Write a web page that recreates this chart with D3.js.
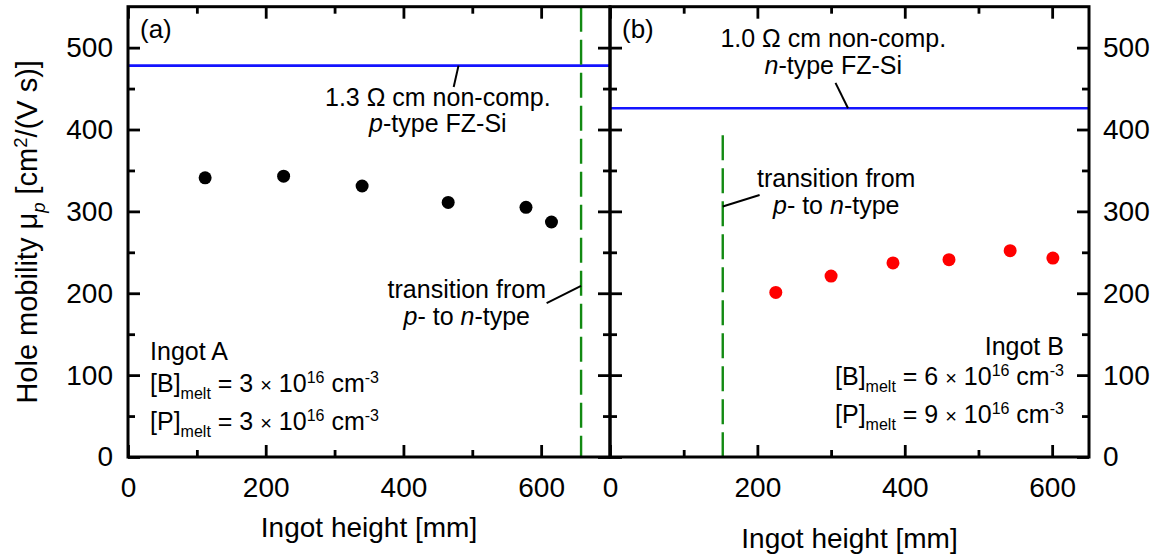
<!DOCTYPE html>
<html>
<head>
<meta charset="utf-8">
<script src="https://cdn.jsdelivr.net/npm/d3@7"></script>
<style>
  body { margin: 0; background: #fff; }
  svg text { font-family: "Liberation Sans", Arial, sans-serif; fill: #000; }
</style>
</head>
<body>
<svg id="chart" width="1159" height="556"></svg>
<script>
// ---- data ----
// panel (a): ingot A, black dots
const heightA = [112, 226, 340, 465, 578, 615];
const mobilityA = [341, 343, 331, 311, 305, 287];
// panel (b): ingot B, red dots
const heightB = [225, 300, 384, 460, 543, 601];
const mobilityB = [201, 221, 237, 241, 252, 243];

const fzA = 478;          // 1.3 Ohm cm p-type FZ-Si reference
const fzB = 426;          // 1.0 Ohm cm n-type FZ-Si reference
const transitionA = 658;  // p- to n-type transition [mm]
const transitionB = 153;
const transitionBTop = 393;

const yTicks = [0, 100, 200, 300, 400, 500];
const yMinor = [50, 150, 250, 350, 450];
const xTicksA = [0, 200, 400, 600];
const xMinorA = [100, 300, 500];
const xTicksB = [0, 200, 400, 600];
const xMinorB = [100, 300, 500];

// ---- layout ----
const svg = d3.select("#chart");
const plotTop = 6.7, plotBottom = 457;
const leftA = 128, mid = 610, rightB = 1089;

const y = d3.scaleLinear().domain([0, 550]).range([plotBottom, plotTop]);
const xA = d3.scaleLinear().domain([0, 700]).range([leftA, mid]);
const xB = d3.scaleLinear().domain([0, 650]).range([mid, rightB]);

const tickFont = 28, major = 12, minor = 7;

function styleAxis(g) {
  g.select(".domain").remove();
  g.selectAll("line").attr("stroke", "#000").attr("stroke-width", 2.8);
  g.selectAll("text").attr("font-size", tickFont).attr("font-family", "Liberation Sans, Arial, sans-serif");
}

function panelAxes(x, xTicks, xMinor, left, right, showLeft, showRight) {
  // bottom
  svg.append("g").attr("transform", `translate(0,${plotBottom})`)
    .call(d3.axisBottom(x).tickValues(xTicks).tickSize(-major).tickSizeOuter(0).tickPadding(20))
    .call(styleAxis);
  svg.append("g").attr("transform", `translate(0,${plotBottom})`)
    .call(d3.axisBottom(x).tickValues(xMinor).tickSize(-minor).tickSizeOuter(0).tickFormat(""))
    .call(styleAxis);
  // top (mirror)
  svg.append("g").attr("transform", `translate(0,${plotTop})`)
    .call(d3.axisTop(x).tickValues(xTicks).tickSize(-major).tickSizeOuter(0).tickFormat(""))
    .call(styleAxis);
  svg.append("g").attr("transform", `translate(0,${plotTop})`)
    .call(d3.axisTop(x).tickValues(xMinor).tickSize(-minor).tickSizeOuter(0).tickFormat(""))
    .call(styleAxis);
  // left
  svg.append("g").attr("transform", `translate(${left},0)`)
    .call(d3.axisLeft(y).tickValues(yTicks).tickSize(-major).tickSizeOuter(0).tickPadding(15)
      .tickFormat(showLeft ? d3.format("d") : ""))
    .call(styleAxis);
  svg.append("g").attr("transform", `translate(${left},0)`)
    .call(d3.axisLeft(y).tickValues(yMinor).tickSize(-minor).tickSizeOuter(0).tickFormat(""))
    .call(styleAxis);
  // right
  svg.append("g").attr("transform", `translate(${right},0)`)
    .call(d3.axisRight(y).tickValues(yTicks).tickSize(-major).tickSizeOuter(0).tickPadding(14)
      .tickFormat(showRight ? d3.format("d") : ""))
    .call(styleAxis);
  svg.append("g").attr("transform", `translate(${right},0)`)
    .call(d3.axisRight(y).tickValues(yMinor).tickSize(-minor).tickSizeOuter(0).tickFormat(""))
    .call(styleAxis);
}

// reference lines and transitions (drawn before the frame)
svg.append("line")
  .attr("x1", xA(0)).attr("x2", xA(700)).attr("y1", y(fzA)).attr("y2", y(fzA))
  .attr("stroke", "#1414ff").attr("stroke-width", 2.6);
svg.append("line")
  .attr("x1", xB(0)).attr("x2", xB(650)).attr("y1", y(fzB)).attr("y2", y(fzB))
  .attr("stroke", "#1414ff").attr("stroke-width", 2.6);
svg.append("line")
  .attr("x1", xA(transitionA)).attr("x2", xA(transitionA)).attr("y1", y(550)).attr("y2", y(0))
  .attr("stroke", "#128a12").attr("stroke-width", 2.4).attr("stroke-dasharray", "25,8");
svg.append("line")
  .attr("x1", xB(transitionB)).attr("x2", xB(transitionB)).attr("y1", y(transitionBTop)).attr("y2", y(0))
  .attr("stroke", "#128a12").attr("stroke-width", 2.4).attr("stroke-dasharray", "25,8");

// dots
svg.append("g").selectAll("circle")
  .data(heightA.map((h, i) => [h, mobilityA[i]]))
  .join("circle")
    .attr("cx", d => xA(d[0])).attr("cy", d => y(d[1])).attr("r", 6.5).attr("fill", "#000");
svg.append("g").selectAll("circle")
  .data(heightB.map((h, i) => [h, mobilityB[i]]))
  .join("circle")
    .attr("cx", d => xB(d[0])).attr("cy", d => y(d[1])).attr("r", 6.5).attr("fill", "#f00");

// frames
svg.append("rect").attr("x", leftA).attr("y", plotTop).attr("width", mid - leftA).attr("height", plotBottom - plotTop)
  .attr("fill", "none").attr("stroke", "#000").attr("stroke-width", 3);
svg.append("rect").attr("x", mid).attr("y", plotTop).attr("width", rightB - mid).attr("height", plotBottom - plotTop)
  .attr("fill", "none").attr("stroke", "#000").attr("stroke-width", 3);

panelAxes(xA, xTicksA, xMinorA, leftA, mid, true, false);
panelAxes(xB, xTicksB, xMinorB, mid, rightB, false, true);

// ---- text helpers ----
// parts: [text, kind] kind: "" normal, "i" italic, "sub", "isub", "sup", "x" small
function richText(x, yPos, parts, size, anchor) {
  const t = svg.append("text").attr("x", x).attr("y", yPos)
    .attr("font-size", size).attr("text-anchor", anchor || "start");
  let shift = 0;
  parts.forEach(([s, kind]) => {
    const sp = t.append("tspan").text(s);
    let target = 0;
    if (kind === "sub" || kind === "isub") { target = size * 0.28; sp.attr("font-size", size * 0.64); }
    if (kind === "sup") { target = -size * 0.36; sp.attr("font-size", size * 0.64); }
    if (kind === "i" || kind === "isub") sp.attr("font-style", "italic");
    if (kind === "x") sp.attr("font-size", size * 0.8);
    if (target !== shift) { sp.attr("dy", target - shift); shift = target; }
  });
  return t;
}

function leader(x1, y1, x2, y2) {
  svg.append("line").attr("x1", x1).attr("y1", y1).attr("x2", x2).attr("y2", y2)
    .attr("stroke", "#000").attr("stroke-width", 2);
}

const annFont = 25;

// panel labels
richText(140, 38, [["(a)", ""]], 26);
richText(622, 38, [["(b)", ""]], 26);

// panel (a) annotations
richText(xA(450), y(429), [["1.3 Ω cm non-comp.", ""]], annFont, "middle");
richText(xA(450), y(397), [["p", "i"], ["-type FZ-Si", ""]], annFont, "middle");
leader(xA(480), y(fzA), xA(473), y(452));

richText(xA(492), y(194), [["transition from", ""]], annFont, "middle");
richText(xA(492), y(161), [["p", "i"], ["- to ", ""], ["n", "i"], ["-type", ""]], annFont, "middle");
leader(xA(608), y(188), xA(transitionA), y(209));

richText(xA(32), y(118), [["Ingot A", ""]], annFont);
richText(xA(32), y(79), [["[B]", ""], ["melt", "sub"], [" = 3 ", ""], ["×", "x"], [" 10", ""], ["16", "sup"], [" cm", ""], ["-3", "sup"]], annFont);
richText(xA(32), y(33), [["[P]", ""], ["melt", "sub"], [" = 3 ", ""], ["×", "x"], [" 10", ""], ["16", "sup"], [" cm", ""], ["-3", "sup"]], annFont);

// panel (b) annotations
richText(xB(303), y(501), [["1.0 Ω cm non-comp.", ""]], annFont, "middle");
richText(xB(303), y(468), [["n", "i"], ["-type FZ-Si", ""]], annFont, "middle");
leader(xB(306), y(457), xB(323), y(fzB));

richText(xB(307), y(330), [["transition from", ""]], annFont, "middle");
richText(xB(307), y(297), [["p", "i"], ["- to ", ""], ["n", "i"], ["-type", ""]], annFont, "middle");
leader(xB(transitionB), y(306), xB(203), y(320));

richText(xB(616), y(125), [["Ingot B", ""]], annFont, "end");
richText(xB(616), y(88), [["[B]", ""], ["melt", "sub"], [" = 6 ", ""], ["×", "x"], [" 10", ""], ["16", "sup"], [" cm", ""], ["-3", "sup"]], annFont, "end");
richText(xB(616), y(41.5), [["[P]", ""], ["melt", "sub"], [" = 9 ", ""], ["×", "x"], [" 10", ""], ["16", "sup"], [" cm", ""], ["-3", "sup"]], annFont, "end");

// axis titles
richText((leftA + mid) / 2, 537, [["Ingot height [mm]", ""]], 28, "middle");
richText((mid + rightB) / 2, 548, [["Ingot height [mm]", ""]], 28, "middle");

richText(0, 0, [["Hole mobility μ", ""], ["p", "isub"], [" [cm", ""], ["2", "sup"], ["/(V s)]", ""]], 29, "middle")
  .attr("transform", `translate(37,${(plotTop + plotBottom) / 2}) rotate(-90)`);
</script>
</body>
</html>
